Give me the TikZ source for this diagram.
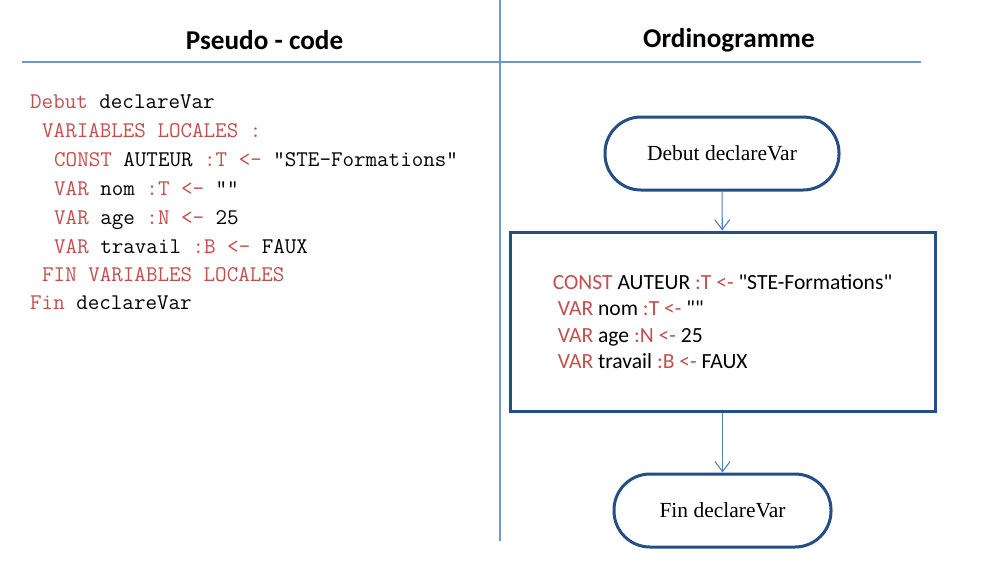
\documentclass[tikz,border=0pt]{standalone}
\usepackage{fontspec}
\setmainfont{Carlito}[Ligatures=TeXOff]
\newfontfamily\termfont{Liberation Serif}[Ligatures=TeXOff]
\usetikzlibrary{arrows.meta}
\definecolor{boxblue}{HTML}{254E86}
\definecolor{arrowblue}{HTML}{4F81BD}
\definecolor{sepblue}{HTML}{6F97CC}
\definecolor{kwred}{HTML}{C0504D}
\newcommand{\kw}[1]{\textcolor{kwred}{#1}}

\begin{document}
\begin{tikzpicture}[x=1pt, y=-1pt,
    code/.style={anchor=base west, inner sep=0pt, font=\ttfamily\fontsize{22.4}{26}\selectfont},
    term/.style={draw=boxblue, line width=3pt, rounded corners=36pt, minimum height=73pt, font=\termfont\fontsize{21.5}{26}\selectfont},
    flow/.style={draw=arrowblue, line width=1.1pt, -{Straight Barb[length=10pt,width=15pt]}}]
	\useasboundingbox (0,0) rectangle (985,571);
	% separators
	\coordinate (vtop) at (500,0);
	\coordinate (vbot) at (500,541);
	\coordinate (hleft) at (22,62);
	\coordinate (hright) at (921,62);
	\draw[color=sepblue, line width=1.6pt] (vtop) -- (vbot);
	\draw[color=sepblue, line width=1.6pt] (hleft) -- (hright);
	\node[font=\bfseries\fontsize{27.2}{30}\selectfont] (hpseudo) at (264.5,40) {Pseudo - code};
	\node[font=\bfseries\fontsize{27.2}{30}\selectfont] (hordino) at (729,40) {Ordinogramme};
	% pseudo-code
	\node[code] (l1) at (30,108) {\kw{Debut} declareVar};
	\node[code] (l2) at (42,137) {\kw{VARIABLES LOCALES :}};
	\node[code] (l3) at (54,166) {\kw{CONST} AUTEUR \kw{:T <-} "STE-Formations"};
	\node[code] (l4) at (54,195) {\kw{VAR} nom \kw{:T <-} ""};
	\node[code] (l5) at (54,224) {\kw{VAR} age \kw{:N <-} 25};
	\node[code] (l6) at (54,253) {\kw{VAR} travail \kw{:B <-} FAUX};
	\node[code] (l7) at (42,281) {\kw{FIN VARIABLES LOCALES}};
	\node[code] (l8) at (30,309) {\kw{Fin} declareVar};
	% ordinogramme
	\node[term, minimum width=234pt] (debut) at (722,153.5) {Debut declareVar};
	\node[draw=boxblue, line width=3pt, minimum width=425pt, minimum height=179pt, align=left,
	      font=\fontsize{21.6}{26.5}\selectfont] (bloc) at (722.5,321.5)
	  {\kw{CONST} AUTEUR \kw{:T <-} "STE-Formations"\\
	   \hspace*{.23em}\kw{VAR} nom \kw{:T <-} ""\\
	   \hspace*{.23em}\kw{VAR} age \kw{:N <-} 25\\
	   \hspace*{.23em}\kw{VAR} travail \kw{:B <-} FAUX};
	\node[term, minimum width=217pt] (fin) at (722.5,510.5) {Fin declareVar};
	\draw[flow] (debut) -- (bloc);
	\draw[flow] (bloc) -- (fin);
\end{tikzpicture}
\end{document}
